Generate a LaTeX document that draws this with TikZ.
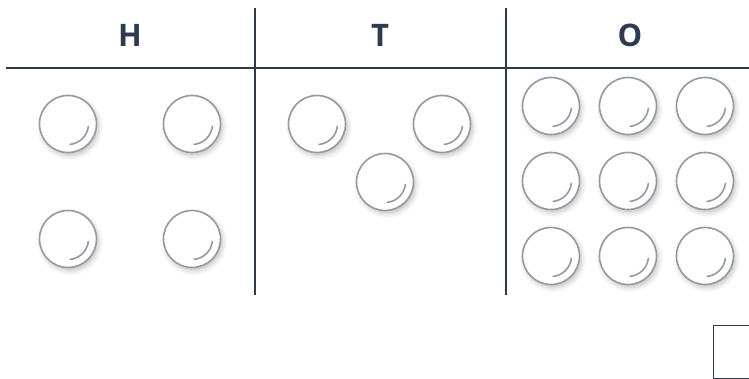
\documentclass[tikz,border=0pt]{standalone}
\usepackage{fontspec}
\setmainfont{Open Sans}
\usetikzlibrary{shadows.blur}
\definecolor{ink}{HTML}{2E3B4E}
\definecolor{rim}{HTML}{9499A3}
\tikzset{
  counter/.style={circle, draw=rim, line width=1.6pt, fill=white, minimum size=57pt, inner sep=0pt,
    blur shadow={shadow xshift=2pt, shadow yshift=-3pt, shadow blur radius=5pt, shadow opacity=25}},
  hilite/.style={draw=rim, line width=1.6pt, line cap=round},
  rule/.style={draw=ink, line width=1.3pt},
  head/.style={font=\bfseries\fontsize{31}{31}\selectfont, text=ink}
}
\newcommand{\counterat}[3]{%
  \node[counter] (#1) at (#2pt,-#3pt) {};
  \draw[hilite] ([shift={(-84:20.5pt)}]#1.center) arc[start angle=-84, end angle=-7, radius=20.5pt];
}
\begin{document}
\begin{tikzpicture}[x=1pt,y=1pt]
\useasboundingbox (0,0) rectangle (749,-378);
\coordinate (hl) at (6,-68);
\coordinate (hr) at (749,-68);
\coordinate (v1t) at (255,-8);
\coordinate (v1b) at (255,-295);
\coordinate (v2t) at (506,-8);
\coordinate (v2b) at (506,-295);
\draw[rule] (hl) -- (hr);
\draw[rule] (v1t) -- (v1b);
\draw[rule] (v2t) -- (v2b);
\node[head] (lh) at (130,-35) {H};
\node[head] (lt) at (380,-35) {T};
\node[head] (lo) at (630,-35) {O};
\counterat{h1}{68}{124}
\counterat{h2}{192}{124}
\counterat{h3}{68}{239}
\counterat{h4}{192}{239}
\counterat{t1}{317}{124}
\counterat{t2}{442}{124}
\counterat{t3}{385}{182}
\counterat{o1}{551}{106}
\counterat{o2}{628}{106}
\counterat{o3}{705}{106}
\counterat{o4}{551}{181}
\counterat{o5}{628}{181}
\counterat{o6}{705}{181}
\counterat{o7}{551}{256}
\counterat{o8}{628}{256}
\counterat{o9}{705}{256}
\node[draw=ink, line width=1.2pt, minimum width=60pt, minimum height=53pt, anchor=north west, inner sep=0pt] (box) at (713,-325) {};
\end{tikzpicture}
\end{document}
